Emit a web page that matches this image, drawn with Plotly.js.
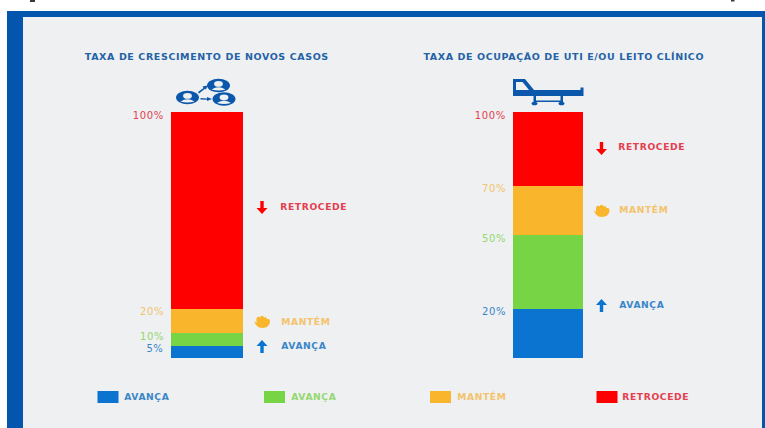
<!DOCTYPE html>
<html lang="pt">
<head>
<meta charset="utf-8">
<script src="https://cdn.plot.ly/plotly-3.0.1.min.js"></script>
<style>
html,body{margin:0;padding:0;background:#fff}
#chart{width:765px;height:428px}
/* Caixa-alta larga, com entreletra aberta */
#chart .annotation-text{letter-spacing:.6px}
</style>
</head>
<body>
<div id="chart"></div>
<script>
// Faixas de cada indicador: limite superior de cada faixa, em %
const casosLimites = [5, 10, 20, 100];
const utiLimites = [20, 50, 70, 100];
const faixaNomes = ['AVANÇA', 'AVANÇA', 'MANTÉM', 'RETROCEDE'];
const casosTitulo = 'TAXA DE CRESCIMENTO DE NOVOS CASOS';
const utiTitulo = 'TAXA DE OCUPAÇÃO DE UTI E/OU LEITO CLÍNICO';

const corFaixa = ['#0a74d0', '#77d444', '#f9b52c', '#ff0000'];
const corTexto = ['#3a86c8', '#93d86f', '#f4c36c', '#e4404e'];
const azulTitulo = '#2462a6';
const azulIcone = '#0b57ab';
const W = 765, H = 428;
const fonte = '"DejaVu Sans", sans-serif';

// Cada barra empilhada desenha a diferença entre limites consecutivos
function pilha(limites, xa, ya) {
  return limites.map((lim, i) => ({
    type: 'bar', x: [''], y: [lim - (i ? limites[i - 1] : 0)],
    xaxis: xa, yaxis: 'y', name: faixaNomes[i],
    marker: {color: corFaixa[i], line: {width: 0}},
    hoverinfo: 'skip', showlegend: false
  }));
}
const traces = pilha(casosLimites, 'x', 'y').concat(pilha(utiLimites, 'x2', 'y'));

const shapes = [];
const annotations = [];

// Moldura e painel de fundo
function fundo(x0, y0, x1, y1, cor) {
  shapes.push({type: 'rect', xref: 'paper', yref: 'paper', layer: 'below',
    x0: x0 / W, x1: x1 / W, y0: 1 - y0 / H, y1: 1 - y1 / H,
    fillcolor: cor, line: {width: 0}});
}
fundo(7, 11, W, H, '#0455ae');
fundo(23, 17, 762, H, '#eef0f2');

// Ícones em coordenadas de página, no eixo sobreposto x3/y3
function forma(path, cor) {
  shapes.push({type: 'path', xref: 'x3', yref: 'y3', layer: 'above', path,
    fillcolor: cor, line: {width: 0}});
}
function elipse(cx, cy, rx, ry, cor) {
  shapes.push({type: 'circle', xref: 'x3', yref: 'y3', layer: 'above',
    x0: cx - rx, x1: cx + rx, y0: cy - ry, y1: cy + ry,
    fillcolor: cor, line: {width: 0}});
}
function setaCima(x, yTop, yBot, cor) {
  forma(`M${x} ${yTop} L${x + 5.5} ${yTop + 6} L${x + 1.7} ${yTop + 6} L${x + 1.7} ${yBot} L${x - 1.7} ${yBot} L${x - 1.7} ${yTop + 6} L${x - 5.5} ${yTop + 6} Z`, cor);
}
function setaBaixo(x, yTop, yBot, cor) {
  forma(`M${x} ${yBot} L${x + 5.5} ${yBot - 6} L${x + 1.7} ${yBot - 6} L${x + 1.7} ${yTop} L${x - 1.7} ${yTop} L${x - 1.7} ${yBot - 6} L${x - 5.5} ${yBot - 6} Z`, cor);
}
function mao(x, y, cor) {
  forma(`M${x - 8} ${y - 1} L${x - 5.5} ${y + 1} L${x - 5.5} ${y - 4} L${x - 3.5} ${y - 5.5} L${x - 2} ${y - 4.5} L${x - 1} ${y - 6} L${x + 1} ${y - 6} L${x + 2.2} ${y - 4.5} L${x + 4} ${y - 5} L${x + 5} ${y - 3} L${x + 7} ${y - 3} L${x + 8} ${y - 1} L${x + 7.5} ${y + 2} L${x + 5} ${y + 5} L${x + 1} ${y + 6} L${x - 3} ${y + 5.5} L${x - 6} ${y + 3} Z`, cor);
}
function pessoa(cx, cy) {
  elipse(cx, cy, 11.5, 6.8, azulIcone);
  elipse(cx, cy - 1.6, 4.4, 2.8, '#eef0f2');
  forma(`M${cx - 7} ${cy + 4} Q${cx} ${cy - 0.5} ${cx + 7} ${cy + 4} Q${cx} ${cy + 6} ${cx - 7} ${cy + 4} Z`, '#eef0f2');
}
pessoa(218.5, 85.5);
pessoa(187.5, 97.5);
pessoa(224, 99);
// Setas entre as pessoas
forma('M198 92 L203.5 88 L202.5 86.5 L207.5 85.5 L206 89.5 L205 88.7 L199 93.5 Z', azulIcone);
forma('M200.5 98 L207 98.5 L207 97 L212 99 L207 101 L207 99.8 L200.5 99.4 Z', azulIcone);

// Leito hospitalar
forma('M513 79 L525 79 L534 90 L583.5 90 L583.5 96 L513 96 Z M516 82 L516 90 L529 90 L522.5 82 Z', azulIcone);
forma('M580.5 87.5 L583.5 87.5 L583.5 90 L580.5 90 Z', azulIcone);
forma('M533.5 96 L536 96 L536 100.5 L560.5 100.5 L560.5 96 L563 96 L563 102 L536 102 L533.5 102 Z', azulIcone);
elipse(534.5, 103.5, 3, 1.8, azulIcone);
elipse(561.5, 103.5, 3, 1.8, azulIcone);

setaBaixo(262, 201, 214, corFaixa[3]);
mao(262, 322, corFaixa[2]);
setaCima(262, 340, 353, corFaixa[0]);
setaBaixo(601.5, 142, 155, corFaixa[3]);
mao(601.5, 211, corFaixa[2]);
setaCima(601.5, 299, 312, corFaixa[0]);

// Restos de texto escuro na margem superior
forma('M30 0 L35 0 L35 2 L30 2 Z', '#333a40');
forma('M731 0 L734.5 0 L734.5 1.5 L731 1.5 Z', '#333a40');

function texto(t, x, y, cor, size, anchor) {
  annotations.push({xref: 'x3', yref: 'y3', x, y, text: t, showarrow: false,
    xanchor: anchor || 'left', yanchor: 'middle', borderpad: 0,
    font: {family: fonte, size, color: cor, weight: 700}});
}
texto(casosTitulo, 207, 56.5, azulTitulo, 9.5, 'center');
texto(utiTitulo, 563.5, 56, azulTitulo, 9.5, 'center');

// Rótulos percentuais presos ao limite de cada faixa
function rotulos(limites, x) {
  limites.forEach((lim, i) => annotations.push({
    xref: 'x3', yref: 'y', x, y: lim, yshift: -3, text: lim + '%', showarrow: false,
    xanchor: 'right', yanchor: 'middle', borderpad: 0,
    font: {family: fonte, size: 10, color: corTexto[i]}
  }));
}
rotulos(casosLimites, 164);
rotulos(utiLimites, 505.5);

// Legendas laterais das barras
texto('RETROCEDE', 282, 206, corTexto[3], 9.2);
texto('MANTÉM', 282, 321.5, corTexto[2], 9.2);
texto('AVANÇA', 282, 345, corTexto[0], 9.2);
texto('RETROCEDE', 620, 146.5, corTexto[3], 9.2);
texto('MANTÉM', 620, 209.5, corTexto[2], 9.2);
texto('AVANÇA', 620, 304, corTexto[0], 9.2);

// Legenda inferior
const legendaX = [97.5, 264, 430, 596.5];
const legendaY = [396, 396, 396, 396];
faixaNomes.forEach((nome, i) => {
  forma(`M${legendaX[i]} 391 L${legendaX[i] + 21} 391 L${legendaX[i] + 21} 403 L${legendaX[i]} 403 Z`, corFaixa[i]);
  texto(nome, legendaX[i] + 27.5, legendaY[i], corTexto[i], 9.2);
});

const eixoBarra = {visible: false, type: 'category', fixedrange: true};
const layout = {
  width: W, height: H,
  margin: {l: 0, r: 0, t: 0, b: 0, pad: 0},
  paper_bgcolor: '#ffffff', plot_bgcolor: 'rgba(0,0,0,0)',
  barmode: 'stack', bargap: 0, showlegend: false,
  xaxis: Object.assign({domain: [171 / W, 243 / W], anchor: 'y'}, eixoBarra),
  xaxis2: Object.assign({domain: [513 / W, 583 / W], anchor: 'y'}, eixoBarra),
  yaxis: {domain: [1 - 358 / H, 1 - 112 / H], range: [0, 100], visible: false, fixedrange: true},
  xaxis3: {domain: [0, 1], range: [0, W], visible: false, anchor: 'y3', fixedrange: true},
  yaxis3: {domain: [0, 1], range: [H, 0], visible: false, anchor: 'x3', fixedrange: true},
  shapes, annotations
};
// Traço vazio que ativa o eixo sobreposto
traces.push({type: 'scatter', x: [0], y: [0], xaxis: 'x3', yaxis: 'y3', mode: 'none', hoverinfo: 'skip', showlegend: false});

Plotly.newPlot('chart', traces, layout, {displayModeBar: false, staticPlot: true});
</script>
</body>
</html>
